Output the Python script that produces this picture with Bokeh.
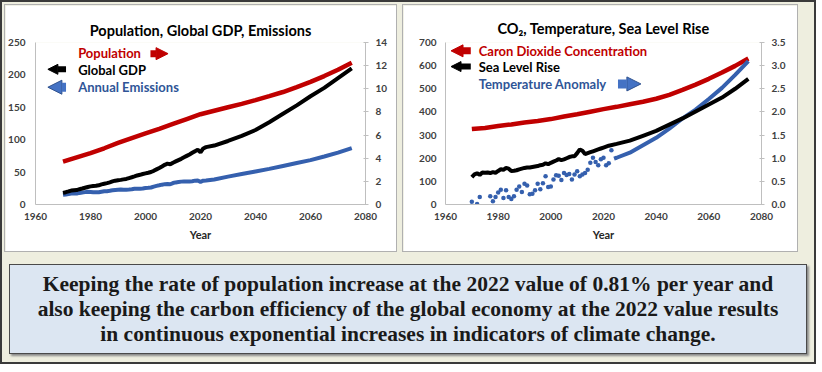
from bokeh.plotting import figure
from bokeh.models import Range1d, LinearAxis, Label, Arrow, NormalHead, Div, PrintfTickFormatter
from bokeh.layouts import column, row
from bokeh.embed import file_html
from bokeh.resources import INLINE

# ---------------- data ----------------
x_ticks = [1960, 1980, 2000, 2020, 2040, 2060, 2080]
left1_ticks = [0, 50, 100, 150, 200, 250]
right1_ticks = [0, 2, 4, 6, 8, 10, 12, 14]
left2_ticks = [0, 100, 200, 300, 400, 500, 600, 700]
right2_ticks = [0.0, 0.5, 1.0, 1.5, 2.0, 2.5, 3.0, 3.5]

years5 = [1970, 1975, 1980, 1985, 1990, 1995, 2000, 2005, 2010, 2015, 2020,
          2025, 2030, 2035, 2040, 2045, 2050, 2055, 2060, 2065, 2070, 2075]
population = [3.70, 4.07, 4.44, 4.86, 5.32, 5.74, 6.14, 6.54, 6.96, 7.38, 7.80,
              8.10, 8.40, 8.70, 9.02, 9.36, 9.72, 10.15, 10.60, 11.10, 11.65, 12.25]
co2 = [326, 331, 339, 346, 354, 361, 369, 380, 390, 401, 412,
       422, 433, 444, 457, 474, 495, 518, 543, 570, 599, 631]

years_hist = list(range(1970, 2023))
gdp_hist = [18.0, 19.0, 20.2, 21.5, 22.0, 22.3, 23.6, 24.7, 25.9, 27.0,
            28.0, 28.6, 28.8, 29.6, 31.0, 32.0, 33.0, 34.2, 35.6, 36.8,
            37.5, 38.0, 38.8, 39.5, 40.8, 42.0, 43.3, 44.8, 45.8, 47.0,
            48.0, 49.0, 50.2, 52.0, 54.2, 56.3, 58.7, 61.2, 63.0, 62.0,
            64.5, 66.5, 68.5, 70.5, 72.8, 75.0, 77.2, 79.8, 82.3, 84.5,
            80.5, 86.5, 88.5]
emis_hist = [14.9, 15.5, 16.2, 17.1, 17.0, 17.0, 17.9, 18.5, 19.1, 19.6,
             19.4, 19.0, 18.9, 19.0, 19.7, 20.3, 20.6, 21.2, 21.9, 22.3,
             22.7, 23.0, 22.6, 22.8, 23.1, 23.5, 24.2, 24.4, 24.4, 24.7,
             25.5, 25.7, 26.2, 27.6, 28.7, 29.6, 30.6, 31.4, 31.7, 31.3,
             33.1, 34.1, 34.7, 35.3, 35.6, 35.5, 35.5, 36.0, 36.8, 37.0,
             35.0, 36.8, 37.2]
sea_hist = [118, 130, 135, 128, 138, 137, 138, 136, 140, 137,
            145, 152, 150, 158, 155, 145, 146, 148, 152, 155,
            158, 160, 160, 162, 164, 166, 170, 172, 178, 174,
            180, 185, 190, 196, 192, 195, 200, 205, 208, 208,
            222, 238, 232, 218, 222, 226, 230, 234, 238, 242,
            246, 250, 254]

years_proj = [2022, 2025, 2030, 2035, 2040, 2045, 2050, 2055, 2060, 2065, 2070, 2075]
gdp_proj = [88.5, 91, 98, 106, 115, 127, 140, 153, 167, 180, 195, 210]
emis_proj = [37.2, 38.5, 43, 47, 51, 55, 59.5, 64, 68.5, 74, 80, 87]
sea_proj = [254, 262, 276, 297, 318, 345, 372, 402, 432, 462, 500, 543]

temp_years = [1970, 1972, 1973, 1977, 1978, 1979, 1980, 1981, 1982, 1983, 1984,
              1985, 1986, 1987, 1988, 1989, 1990, 1991, 1992, 1993, 1994, 1995,
              1996, 1997, 1998, 1999, 2000, 2001, 2002, 2003, 2004, 2005, 2006,
              2007, 2008, 2009, 2010, 2011, 2012, 2013, 2014, 2015, 2016, 2017,
              2018, 2019, 2020, 2021, 2022, 2023]
temp_hist = [0.06, 0.01, 0.16, 0.18, 0.07, 0.16, 0.26, 0.32, 0.14, 0.31, 0.16,
             0.12, 0.18, 0.32, 0.39, 0.27, 0.45, 0.41, 0.22, 0.23, 0.31, 0.45,
             0.33, 0.46, 0.61, 0.38, 0.39, 0.54, 0.63, 0.62, 0.53, 0.68, 0.64,
             0.66, 0.54, 0.65, 0.72, 0.61, 0.65, 0.68, 0.75, 0.90, 1.01, 0.92,
             0.85, 0.98, 1.01, 0.85, 0.89, 1.17]
temp_proj_years = [2024, 2025, 2030, 2035, 2040, 2045, 2050, 2055, 2060, 2065, 2070, 2075]
temp_proj = [0.99, 1.01, 1.12, 1.28, 1.44, 1.64, 1.86, 2.05, 2.28, 2.52, 2.80, 3.10]

caption = ["Keeping the rate of population increase at the 2022 value of 0.81% per year and",
           "also keeping the carbon efficiency of the global economy at the 2022 value results",
           "in continuous exponential increases in indicators of climate change."]

# ---------------- style ----------------
FONT = "Lato"
RED = "#C00000"
BLUE_LINE = "#3560AE"
BLUE_TXT = "#2F5597"
AXIS_C = "#BFBFBF"
TICK_TXT = "#404040"


def make_fig(w, h, ymax, yr_max, mb, title, title_offset, title_standoff):
    p = figure(width=w, height=h, x_range=Range1d(1960, 2080), y_range=Range1d(0, ymax),
               output_backend="svg", toolbar_location=None,
               min_border_left=mb[0], min_border_right=mb[1],
               min_border_top=mb[2], min_border_bottom=mb[3])
    p.extra_y_ranges = {"r": Range1d(0, yr_max)}
    p.xgrid.visible = False
    p.ygrid.visible = False
    p.outline_line_color = None
    p.background_fill_color = "white"
    p.border_fill_color = "white"
    p.title.text = title
    p.title.align = "center"
    p.title.offset = title_offset
    p.title.standoff = title_standoff
    p.title.text_font = FONT
    p.title.text_font_size = "14.5px"
    p.title.text_font_style = "bold"
    p.title.text_color = "#000000"
    return p


def style_axis(ax, standoff, tick_in=0, tick_out=0):
    ax.axis_line_color = AXIS_C
    ax.axis_line_width = 1
    ax.major_tick_in = tick_in
    ax.major_tick_out = tick_out
    ax.major_tick_line_color = AXIS_C if (tick_in or tick_out) else None
    ax.minor_tick_line_color = None
    ax.major_label_text_font = FONT
    ax.major_label_text_font_size = "10px"
    ax.major_label_text_font_style = "bold"
    ax.major_label_text_color = TICK_TXT
    ax.major_label_standoff = standoff


def add_xaxis(p):
    ax = p.xaxis[0]
    ax.ticker = x_ticks
    style_axis(ax, 8)
    ax.axis_label = "Year"
    ax.axis_label_text_font = FONT
    ax.axis_label_text_font_size = "11px"
    ax.axis_label_text_font_style = "bold"
    ax.axis_label_text_color = "#262626"
    ax.axis_label_standoff = 5


def label(p, x, y, text, color, size="13px"):
    p.add_layout(Label(x=x, y=y, text=text, text_font=FONT, text_font_size=size,
                       text_font_style="bold", text_color=color, text_baseline="middle"))


def arrow(p, x0, x1, y, fill, line, head=11, width=7):
    p.add_layout(Arrow(end=NormalHead(size=head, fill_color=fill, line_color=line, line_width=1),
                       x_start=x0, y_start=y, x_end=x1, y_end=y,
                       line_color=fill, line_width=width))


# ---------------- chart 1 ----------------
p1 = make_fig(393, 248, 250, 14, (29, 33, 35, 49),
              "Population, Global GDP, Emissions", 0, 8)
p1.yaxis[0].ticker = left1_ticks
style_axis(p1.yaxis[0], 10)
ax_r1 = LinearAxis(y_range_name="r", ticker=right1_ticks)
style_axis(ax_r1, 7, 2, 3)
p1.add_layout(ax_r1, "right")
add_xaxis(p1)

p1.line(years_hist + years_proj[1:], emis_hist + emis_proj[1:], line_color=BLUE_LINE, line_width=4)
p1.line(years_hist + years_proj[1:], gdp_hist + gdp_proj[1:], line_color="black", line_width=4)
p1.line(years5, population, line_color=RED, line_width=4.5, y_range_name="r")

label(p1, 1975.5, 233.4, "Population", RED)
label(p1, 1975.5, 208.1, "Global GDP", "black")
label(p1, 1975.5, 182.0, "Annual Emissions", BLUE_TXT)
arrow(p1, 2001.8, 2008.2, 232.8, RED, RED, 12, 7)
arrow(p1, 1971.1, 1964.5, 208.6, "black", "black", 10, 6)
arrow(p1, 1971.1, 1964.5, 181.0, "#4472C4", "#2F528F", 14, 9)

# ---------------- chart 2 ----------------
p2 = make_fig(396, 248, 700, 3.5, (42, 38, 37, 44),
              "CO\u2082, Temperature, Sea Level Rise", -10, 11)
p2.yaxis[0].ticker = left2_ticks
style_axis(p2.yaxis[0], 9)
ax_r2 = LinearAxis(y_range_name="r", ticker=right2_ticks,
                   formatter=PrintfTickFormatter(format="%.1f"))
style_axis(ax_r2, 7, 2, 3)
p2.add_layout(ax_r2, "right")
add_xaxis(p2)

p2.line(years5, co2, line_color=RED, line_width=4.5)
p2.line(temp_proj_years, temp_proj, line_color=BLUE_LINE, line_width=4, y_range_name="r")
p2.line(years_hist + years_proj[1:], sea_hist + sea_proj[1:], line_color="black", line_width=4)
p2.scatter(temp_years, temp_hist, size=4.5, fill_color=BLUE_LINE, line_color=None,
           y_range_name="r")

label(p2, 1972.6, 665, "Caron Dioxide Concentration", RED)
label(p2, 1972.6, 596, "Sea Level Rise", "black")
label(p2, 1972.6, 520, "Temperature Anomaly", BLUE_TXT)
arrow(p2, 1969.6, 1962.1, 664, RED, RED, 12, 7)
arrow(p2, 1969.6, 1962.1, 596, "black", "black", 10, 6)
arrow(p2, 2025.5, 2034.2, 521, "#4472C4", "#2F528F", 14, 9)

for p in (p1, p2):
    p.styles = {"border": "1px solid #B0B0B0"}

# ---------------- caption ----------------
cap_html = ('<div style="width:798px;height:90px;box-sizing:border-box;'
            'background:#DCE6F2;border:1px solid #4A4A4A;box-shadow:2px 2px 2px #8A8A8A;'
            'display:flex;flex-direction:column;justify-content:center;align-items:center;'
            'font-family:\'Liberation Serif\';font-weight:bold;font-size:21.5px;'
            'line-height:25px;color:#1A1A1A;text-align:center;">'
            + "<br>".join(caption) + '</div>')
cap = Div(text=cap_html, width=798, height=90)

top = row(p1, p2, spacing=5)
layout = column(top, cap, spacing=7,
                styles={"background-color": "#EEEEDF", "border": "2px solid #3A3A3A",
                        "padding": "2px 2px 3px 2px"})

open("out.html", "w").write(file_html(layout, INLINE))
